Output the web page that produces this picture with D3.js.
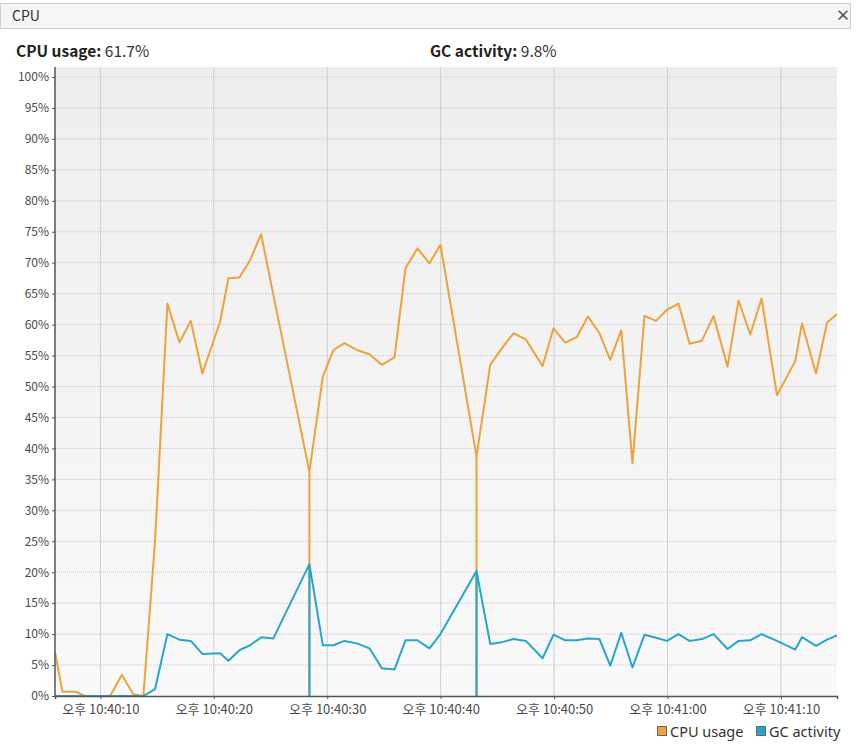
<!DOCTYPE html>
<html>
<head>
<meta charset="utf-8">
<script src="https://cdn.jsdelivr.net/npm/d3@7"></script>
<style>
    body { margin: 0; background: #fff; font-family: "Noto Sans CJK KR", "Noto Sans", sans-serif; }
</style>
</head>
<body>
<div id="cpuChart"></div>
<script>
// seconds after 10:40:00 for each sample (repeated time = GC pause drop)
const sampleSecs = [6.0, 6.65, 7.77, 8.65, 10.86, 11.89, 12.91, 13.79, 14.82, 15.91,
    16.97, 17.97, 18.99, 20.56, 21.29, 22.26, 23.2, 24.17, 25.25, 28.43,
    28.43, 28.43, 29.61, 30.55, 31.52, 32.61, 33.72, 34.81, 35.93, 36.9,
    37.95, 39.01, 39.98, 43.16, 43.16, 43.16, 44.37, 45.4, 46.42, 47.51,
    48.98, 49.95, 50.98, 52.01, 52.98, 54.0, 54.95, 55.92, 56.91, 57.97,
    58.98, 59.95, 60.97, 61.94, 63.03, 64.06, 65.29, 66.26, 67.29, 68.29,
    69.65, 71.26, 71.85, 73.09, 74.06, 74.94];

const cpuUsage = [7.1, 0.7, 0.7, 0, 0, 3.4, 0.3, 0, 25, 63.4,
    57.1, 60.6, 52.1, 60.5, 67.5, 67.6, 70.4, 74.6, 64.8, 36.2,
    0, 36.2, 51.6, 55.9, 57.0, 55.9, 55.2, 53.5, 54.7, 69.1,
    72.3, 69.9, 72.9, 38.7, 0, 38.7, 53.5, 56.2, 58.6, 57.6,
    53.3, 59.4, 57.1, 58.0, 61.3, 58.6, 54.3, 59.1, 37.6, 61.4,
    60.6, 62.4, 63.4, 56.9, 57.4, 61.4, 53.2, 63.9, 58.4, 64.2,
    48.6, 54.1, 60.2, 52.1, 60.3, 61.7];

const gcActivity = [0, 0, 0, 0, 0, 0, 0, 0, 1.1, 10.0,
    9.1, 8.9, 6.8, 6.9, 5.7, 7.4, 8.2, 9.5, 9.3, 21.3,
    0, 21.3, 8.2, 8.2, 8.9, 8.5, 7.7, 4.5, 4.3, 9.0,
    9.0, 7.7, 10.0, 20.2, 0, 20.2, 8.4, 8.7, 9.2, 8.9,
    6.1, 9.9, 9.0, 9.0, 9.3, 9.2, 4.9, 10.2, 4.6, 9.9,
    9.4, 8.9, 10.0, 8.9, 9.2, 10.0, 7.6, 8.9, 9.0, 10.0,
    8.9, 7.5, 9.5, 8.1, 9.1, 9.8];

const yTicks = d3.range(0, 101, 5);
const seriesNames = ['CPU usage', 'GC activity'];

class CpuChart {
    constructor() {
        this.margin = {top: 67, right: 20, bottom: 54, left: 55};
        this.width = 857 - this.margin.left - this.margin.right;
        this.height = 750 - this.margin.top - this.margin.bottom;
        this.colors = {
            cpu: '#eda23c',
            gc: '#27a6cd',
            axis: '#555',
            grid: '#cfcfcf',
            text: '#4a4a4a'
        };
    }

    create() {
        const base = new Date(2024, 0, 1, 22, 40, 0);
        const data = sampleSecs.map((s, i) => ({
            time: new Date(base.getTime() + s * 1000),
            cpu: cpuUsage[i],
            gc: gcActivity[i]
        }));

        const root = d3.select('#cpuChart')
            .append('svg')
            .attr('width', 857)
            .attr('height', 750)
            .style('display', 'block');

        this.drawHeader(root);

        const svg = root.append('g')
            .attr('transform', `translate(${this.margin.left},${this.margin.top})`);

        const x = d3.scaleTime()
            .domain([new Date(base.getTime() + 6000), new Date(base.getTime() + 74940)])
            .range([0, this.width]);

        const y = d3.scaleLinear()
            .domain([0, 100])
            .range([this.height, 10]);

        // Background gradient
        const defs = root.append('defs');
        const grad = defs.append('linearGradient')
            .attr('id', 'bg')
            .attr('x1', 0).attr('y1', 0).attr('x2', 0).attr('y2', 1);
        grad.append('stop').attr('offset', '0%').attr('stop-color', '#eeeeee');
        grad.append('stop').attr('offset', '100%').attr('stop-color', '#f9f9f9');

        defs.append('clipPath')
            .attr('id', 'plotClip')
            .append('rect')
            .attr('width', this.width)
            .attr('height', this.height);

        svg.append('rect')
            .attr('width', this.width)
            .attr('height', this.height)
            .attr('fill', 'url(#bg)');

        const xTicks = x.ticks(d3.timeSecond.every(10));

        // Grid lines
        svg.append('g')
            .selectAll('line')
            .data(xTicks)
            .enter()
            .append('line')
            .attr('x1', d => x(d)).attr('x2', d => x(d))
            .attr('y1', 0).attr('y2', this.height)
            .attr('stroke', this.colors.grid)
            .attr('stroke-width', 1);

        svg.append('g')
            .selectAll('line')
            .data(yTicks.filter(d => d > 0))
            .enter()
            .append('line')
            .attr('x1', 0).attr('x2', this.width)
            .attr('y1', d => y(d)).attr('y2', d => y(d))
            .attr('stroke', '#c8c8c8')
            .attr('stroke-width', 1)
            .attr('stroke-dasharray', '1,1');

        // Lines
        const plot = svg.append('g').attr('clip-path', 'url(#plotClip)');

        const cpuLine = d3.line().x(d => x(d.time)).y(d => y(d.cpu));
        const gcLine = d3.line().x(d => x(d.time)).y(d => y(d.gc));

        plot.append('path')
            .datum(data)
            .attr('d', cpuLine)
            .attr('fill', 'none')
            .attr('stroke', this.colors.cpu)
            .attr('stroke-width', 2)
            .attr('stroke-linejoin', 'round');

        plot.append('path')
            .datum(data)
            .attr('d', gcLine)
            .attr('fill', 'none')
            .attr('stroke', this.colors.gc)
            .attr('stroke-width', 2)
            .attr('stroke-linejoin', 'round');

        // Add axes
        const fmt = d3.timeFormat('%I:%M:%S');
        const xAxis = svg.append('g')
            .attr('transform', `translate(0,${this.height})`)
            .call(d3.axisBottom(x)
                .tickValues(xTicks)
                .tickSize(3)
                .tickFormat(d => '오후 ' + fmt(d)));
        xAxis.select('.domain').attr('stroke', this.colors.axis).attr('stroke-width', 1.5);
        xAxis.selectAll('.tick line').attr('stroke', this.colors.axis);
        xAxis.selectAll('text')
            .attr('fill', this.colors.text)
            .attr('dy', '0.9em')
            .style('font-family', '"Noto Sans CJK KR", sans-serif')
            .style('font-size', '13px');

        const yAxis = svg.append('g')
            .call(d3.axisLeft(y)
                .tickValues(yTicks)
                .tickSize(3)
                .tickPadding(3)
                .tickFormat(d => d + '%'));
        yAxis.select('.domain')
            .attr('d', `M0,0V${this.height}`)
            .attr('stroke', this.colors.axis)
            .attr('stroke-width', 1.5);
        yAxis.selectAll('.tick line').attr('stroke', this.colors.axis);
        yAxis.selectAll('text')
            .attr('fill', this.colors.text)
            .style('font-family', '"Noto Sans CJK KR", sans-serif')
            .style('font-size', '12px');

        // Add legend
        const legend = root.append('g')
            .attr('transform', 'translate(657,726)');
        const legendData = [
            {label: seriesNames[0], color: this.colors.cpu, x: 0},
            {label: seriesNames[1], color: this.colors.gc, x: 99}
        ];
        legend.selectAll('rect')
            .data(legendData)
            .enter()
            .append('rect')
            .attr('x', d => d.x + 0.5)
            .attr('y', 0.5)
            .attr('width', 9)
            .attr('height', 9)
            .attr('fill', d => d.color)
            .attr('stroke', '#666');
        legend.selectAll('text')
            .data(legendData)
            .enter()
            .append('text')
            .attr('x', d => d.x + 13)
            .attr('y', 10.5)
            .text(d => d.label)
            .style('font-family', '"Noto Sans", sans-serif')
            .style('font-size', '14.5px')
            .attr('fill', '#333');
    }

    drawHeader(root) {
        root.append('rect')
            .attr('x', 0.5).attr('y', 3.5)
            .attr('width', 850).attr('height', 25)
            .attr('fill', '#f5f5f5')
            .attr('stroke', '#cfcfcf');

        root.append('text')
            .attr('x', 12).attr('y', 21)
            .text('CPU')
            .style('font-size', '14px')
            .attr('fill', '#333');

        root.append('text')
            .attr('x', 843).attr('y', 21)
            .attr('text-anchor', 'middle')
            .text('×')
            .style('font-size', '15px')
            .style('font-weight', 'bold')
            .attr('fill', '#555');

        const stats = [
            {label: 'CPU usage:', value: cpuUsage[cpuUsage.length - 1], x: 16},
            {label: 'GC activity:', value: gcActivity[gcActivity.length - 1], x: 430}
        ];
        stats.forEach(s => {
            const t = root.append('text')
                .attr('x', s.x).attr('y', 57)
                .style('font-size', '15.5px')
                .attr('fill', '#222');
            t.append('tspan').style('font-weight', 'bold').text(s.label + ' ');
            t.append('tspan').attr('fill', '#333').text(s.value.toFixed(1) + '%');
        });
    }
}

new CpuChart().create();
</script>
</body>
</html>
